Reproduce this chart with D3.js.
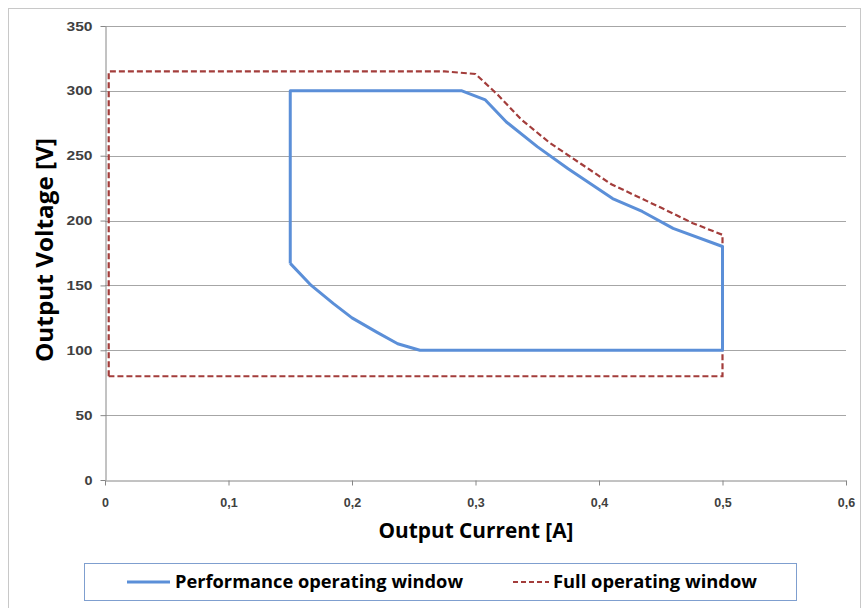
<!DOCTYPE html>
<html>
<head>
    <title>Operating Window</title>
    <script src="https://d3js.org/d3.v7.min.js"></script>
    <style>
        body {
            margin: 0;
            padding: 0;
            background-color: #ffffff;
            font-family: 'Open Sans', 'DejaVu Sans', sans-serif;
        }
        .tick text {
            font-size: 12.5px;
            font-weight: 700;
            fill: #404040;
        }
        .axis-title {
            font-weight: 700;
            fill: #000;
        }
        .legend-text {
            font-size: 18px;
            font-weight: 700;
            fill: #000;
        }
    </style>
</head>
<body>
    <div id="chart"></div>

    <script>
        // performance operating window (blue)
        const perfCurrent = [0.15, 0.15, 0.289, 0.308, 0.325, 0.35, 0.375, 0.411, 0.435, 0.46, 0.5,
                             0.5, 0.255, 0.237, 0.22, 0.2, 0.185, 0.167, 0.15];
        const perfVoltage = [167, 300, 300, 293, 276, 257, 240, 217, 207, 194, 180,
                             100, 100, 105, 114, 125, 136, 150, 167];

        // full operating window (red dashed)
        const fullCurrent = [0.003, 0.003, 0.275, 0.3, 0.318, 0.337, 0.36, 0.385, 0.41, 0.45, 0.476, 0.5, 0.5, 0.003];
        const fullVoltage = [80, 315, 315, 313, 297, 278, 260, 244, 228, 210, 198, 189, 80, 80];

        const xTicks = [0, 0.1, 0.2, 0.3, 0.4, 0.5, 0.6];
        const xTickLabels = ["0", "0,1", "0,2", "0,3", "0,4", "0,5", "0,6"];
        const yTicks = [0, 50, 100, 150, 200, 250, 300, 350];

        const seriesNames = ["Performance operating window", "Full operating window"];

        const W = 861, H = 608;

        const svg = d3.select("#chart")
            .append("svg")
                .attr("width", W)
                .attr("height", H);

        // outer chart frame
        svg.append("rect")
            .attr("x", 8.5).attr("y", 8.5)
            .attr("width", W - 9).attr("height", H)
            .attr("fill", "#fff")
            .attr("stroke", "#c8c8c8");

        const x = d3.scaleLinear().domain([0, 0.6]).range([105, 846]);
        const y = d3.scaleLinear().domain([0, 350]).range([480, 26]);

        // gridlines
        svg.append("g")
            .selectAll("line")
            .data(yTicks.filter(d => d > 0))
            .enter().append("line")
                .attr("x1", x(0)).attr("x2", x(0.6))
                .attr("y1", d => Math.round(y(d)) + 0.5)
                .attr("y2", d => Math.round(y(d)) + 0.5)
                .attr("stroke", "#a6a6a6")
                .attr("stroke-width", 1);

        const xAxis = svg.append("g")
            .attr("transform", "translate(0," + (Math.round(y(0)) + 0.5) + ")")
            .call(d3.axisBottom(x)
                .tickValues(xTicks)
                .tickFormat((d, i) => xTickLabels[i])
                .tickSizeInner(5).tickSizeOuter(0)
                .tickPadding(13));

        const yAxis = svg.append("g")
            .attr("transform", "translate(" + (Math.round(x(0)) + 0.5) + ",0)")
            .call(d3.axisLeft(y)
                .tickValues(yTicks)
                .tickSizeInner(5).tickSizeOuter(0)
                .tickPadding(8));

        [xAxis, yAxis].forEach(function(g) {
            g.select(".domain").attr("stroke", "#868686");
            g.selectAll(".tick line").attr("stroke", "#868686");
            g.selectAll(".tick text").attr("font-family", null).attr("font-size", null);
        });
        yAxis.selectAll(".tick text").attr("textLength", d => d >= 100 ? 26 : (d > 0 ? 17 : 8))
            .attr("lengthAdjust", "spacingAndGlyphs");

        const line = d3.line()
            .x(d => x(d[0]))
            .y(d => y(d[1]));

        svg.append("path")
            .datum(fullCurrent.map((c, i) => [c, fullVoltage[i]]))
            .attr("d", line)
            .attr("fill", "none")
            .attr("stroke", "#a33d3b")
            .attr("stroke-width", 2.2)
            .attr("stroke-dasharray", "6,3");

        svg.append("path")
            .datum(perfCurrent.map((c, i) => [c, perfVoltage[i]]))
            .attr("d", line)
            .attr("fill", "none")
            .attr("stroke", "#5b8fd8")
            .attr("stroke-width", 3)
            .attr("stroke-linejoin", "round");

        // axis titles
        svg.append("text")
            .attr("class", "axis-title")
            .attr("x", 476).attr("y", 538)
            .attr("text-anchor", "middle")
            .attr("textLength", 195)
            .attr("lengthAdjust", "spacingAndGlyphs")
            .style("font-size", "21px")
            .text("Output Current [A]");

        svg.append("text")
            .attr("class", "axis-title")
            .attr("transform", "translate(53,250) rotate(-90)")
            .attr("text-anchor", "middle")
            .attr("textLength", 224)
            .attr("lengthAdjust", "spacingAndGlyphs")
            .style("font-size", "23px")
            .text("Output Voltage [V]");

        // legend
        const legend = svg.append("g");
        legend.append("rect")
            .attr("x", 84.5).attr("y", 563.5)
            .attr("width", 712).attr("height", 37)
            .attr("fill", "#fff")
            .attr("stroke", "#7f9fcf");

        legend.append("line")
            .attr("x1", 127).attr("x2", 170)
            .attr("y1", 582).attr("y2", 582)
            .attr("stroke", "#5b8fd8").attr("stroke-width", 3);
        legend.append("text")
            .attr("class", "legend-text")
            .attr("x", 175).attr("y", 588)
            .attr("textLength", 288)
            .attr("lengthAdjust", "spacingAndGlyphs")
            .text(seriesNames[0]);

        legend.append("line")
            .attr("x1", 513).attr("x2", 549)
            .attr("y1", 582).attr("y2", 582)
            .attr("stroke", "#a33d3b").attr("stroke-width", 2)
            .attr("stroke-dasharray", "5,3");
        legend.append("text")
            .attr("class", "legend-text")
            .attr("x", 553).attr("y", 588)
            .attr("textLength", 204)
            .attr("lengthAdjust", "spacingAndGlyphs")
            .text(seriesNames[1]);
    </script>
</body>
</html>
